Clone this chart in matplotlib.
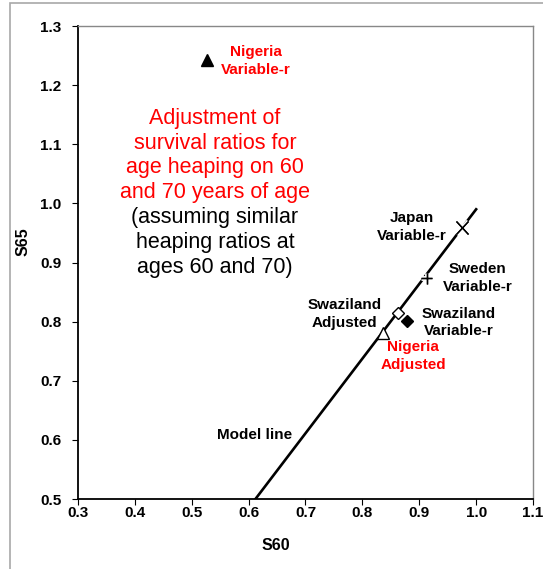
"""
Survival ratio S65 against S60, with the model line and country estimates.
"""

import matplotlib
matplotlib.use("Agg")
import matplotlib.pyplot as plt
import matplotlib.patheffects as pe
from matplotlib.patches import Rectangle

plt.rcParams["font.family"] = ["Liberation Sans", "DejaVu Sans"]

# model line end points
MODEL_S60 = [0.612, 1.000]
MODEL_S65 = [0.500, 0.990]

# country estimates
POINT_NAMES = ["Nigeria Variable-r", "Japan Variable-r", "Sweden Variable-r",
               "Swaziland Adjusted", "Swaziland Variable-r", "Nigeria Adjusted"]
POINT_S60 = [0.527, 0.975, 0.913, 0.862, 0.878, 0.837]
POINT_S65 = [1.242, 0.959, 0.873, 0.815, 0.801, 0.780]

# point labels (text, x, y, colour)
LABEL_TEXT = ["Nigeria\nVariable-r", "Japan\nVariable-r", "Sweden\nVariable-r",
              "Swaziland\nAdjusted", "Swaziland\nVariable-r", "Nigeria\nAdjusted",
              "Model line"]
LABEL_X = [0.613, 0.887, 1.003, 0.769, 0.970, 0.889, 0.611]
LABEL_Y = [1.241, 0.960, 0.874, 0.813, 0.799, 0.742, 0.608]
LABEL_RED = [True, False, False, False, False, True, False]

NOTE_LINES = ["Adjustment of", "survival ratios for", "age heaping on 60",
              "and 70 years of age", "(assuming similar", "heaping ratios at",
              "ages 60 and 70)"]
NOTE_RED = [True, True, True, True, False, False, False]

X_TICKS = [0.3, 0.4, 0.5, 0.6, 0.7, 0.8, 0.9, 1.0, 1.1]
Y_TICKS = [0.5, 0.6, 0.7, 0.8, 0.9, 1.0, 1.1, 1.2, 1.3]

MARKER_STYLE = {
    "Nigeria Variable-r": dict(marker="^", ms=8.5, mfc="black", mec="black"),
    "Japan Variable-r": dict(marker="x", ms=9, mec="black", mew=1.0),
    "Sweden Variable-r": dict(marker="+", ms=8, mec="black", mew=1.0),
    "Swaziland Adjusted": dict(marker="D", ms=6, mfc="white", mec="black", mew=1.0),
    "Swaziland Variable-r": dict(marker="D", ms=6, mfc="black", mec="black"),
    "Nigeria Adjusted": dict(marker="^", ms=8.5, mfc="white", mec="black", mew=1.0),
}

RED = "#ff0000"


def main():
    fig = plt.figure(figsize=(5.43, 5.69), dpi=100)
    fig.patches.append(Rectangle((10 / 543, -0.1), 1.2, 1.1 - 3 / 569,
                                 transform=fig.transFigure, fill=False,
                                 edgecolor="#a8a8a8", linewidth=1.2))
    ax = fig.add_axes([0.1436, 0.1230, 0.8380, 0.8313])

    ax.plot(MODEL_S60, MODEL_S65, color="black", linewidth=1.9, zorder=2)

    halo = [pe.withStroke(linewidth=3.5, foreground="white")]
    for name, x, y in zip(POINT_NAMES, POINT_S60, POINT_S65):
        style = MARKER_STYLE[name]
        line, = ax.plot([x], [y], linestyle="none", zorder=3, **style)
        if style["marker"] in ("x", "+"):
            line.set_path_effects(halo + [pe.Normal()])

    for text, x, y, red in zip(LABEL_TEXT, LABEL_X, LABEL_Y, LABEL_RED):
        ax.text(x, y, text, ha="center", va="center", fontsize=11,
                fontweight="bold", color=RED if red else "black",
                linespacing=1.3, zorder=4)

    for i, (line, red) in enumerate(zip(NOTE_LINES, NOTE_RED)):
        ax.text(0.541, 1.144 - i * 0.042, line, ha="center", va="center",
                fontsize=15.5, color=RED if red else "black")

    ax.set_xlim(0.3, 1.1)
    ax.set_ylim(0.5, 1.3)
    ax.set_xticks(X_TICKS)
    ax.set_yticks(Y_TICKS)
    ax.set_xticklabels([f"{v:.1f}" for v in X_TICKS], fontweight="bold", fontsize=11)
    ax.set_yticklabels([f"{v:.1f}" for v in Y_TICKS], fontweight="bold", fontsize=11)
    ax.tick_params(axis="x", direction="out", length=4, width=0.8, pad=1)
    ax.tick_params(axis="y", direction="out", length=4, width=0.8, pad=8)

    ax.set_xlabel("S60", fontsize=11.5, fontweight="bold")
    ax.set_ylabel("S65", fontsize=11.5, fontweight="bold")
    ax.xaxis.set_label_coords(0.435, -0.083)
    ax.yaxis.set_label_coords(-0.105, 0.545)

    for side in ("left", "bottom"):
        ax.spines[side].set_color("black")
        ax.spines[side].set_linewidth(1.3)
    for side in ("top", "right"):
        ax.spines[side].set_color("#888888")
        ax.spines[side].set_linewidth(1.0)

    fig.savefig("out.png", dpi=100)
    plt.close(fig)


if __name__ == "__main__":
    main()
